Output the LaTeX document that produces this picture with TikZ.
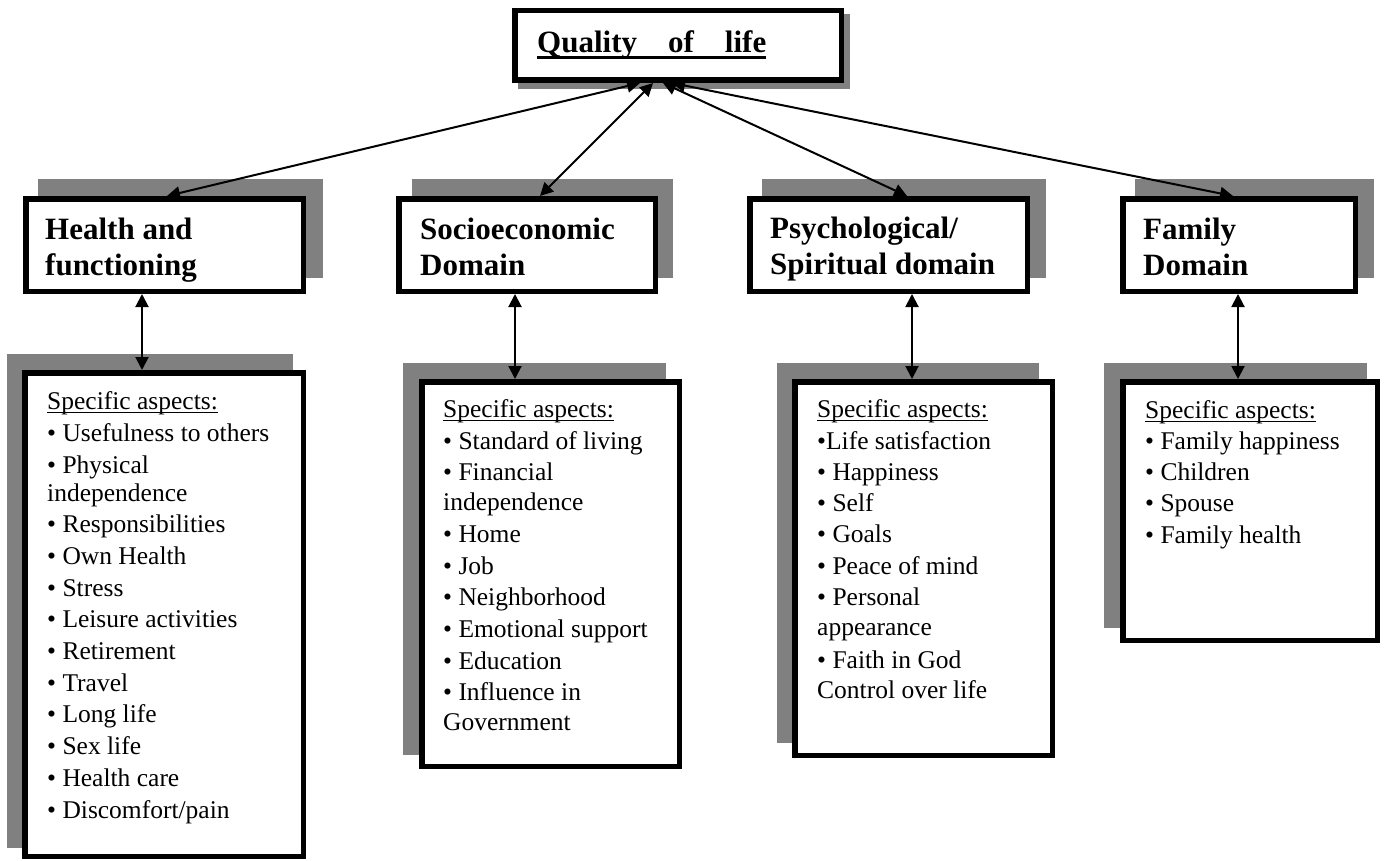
\documentclass[tikz,border=0pt]{standalone}
\usepackage{fontspec}
\setmainfont{Liberation Serif}
\usetikzlibrary{arrows.meta}
\newcommand{\ulbox}[3]{\setbox0=\hbox{#3}\rlap{\rule[-#1]{\wd0}{#2}}\box0}
\definecolor{shadowgray}{RGB}{128,128,128}
\begin{document}
\begin{tikzpicture}[x=1pt,y=-1pt,
  frame/.style={draw=black, line width=5.5pt, fill=white, inner sep=0pt, rectangle},
  shadowbox/.style={fill=shadowgray},
  listtxt/.style={anchor=base west, inner sep=0pt, font=\fontsize{25.5}{30}\selectfont},
  domtxt/.style={anchor=base west, inner sep=0pt, font=\fontsize{31}{36}\selectfont\bfseries},
  biarrow/.style={line width=2pt, {Triangle[length=13pt,width=13pt]}-{Triangle[length=13pt,width=13pt]}}]
\useasboundingbox (0,0) rectangle (1388,861);
% shadows
\fill[shadowbox] (518,14) rectangle (850,89);
\fill[shadowbox] (38,179) rectangle (323,278);
\fill[shadowbox] (412,179) rectangle (673,278);
\fill[shadowbox] (762,179) rectangle (1046,278);
\fill[shadowbox] (1135,179) rectangle (1374,278);
\fill[shadowbox] (7,354) rectangle (293,848);
\fill[shadowbox] (403,363) rectangle (666,755);
\fill[shadowbox] (777,363) rectangle (1039,743);
\fill[shadowbox] (1104,363) rectangle (1367,628);
% frames
\node[frame, minimum width=326.5pt, minimum height=69.5pt] (qol) at (678,45.5) {};
\node[frame, minimum width=277.5pt, minimum height=92.5pt] (hd) at (164.5,245) {};
\node[frame, minimum width=256.5pt, minimum height=92.5pt] (sd) at (527,245) {};
\node[frame, minimum width=277.5pt, minimum height=92.5pt] (pd) at (888.5,245) {};
\node[frame, minimum width=232.5pt, minimum height=92.5pt] (fd) at (1239,245) {};
\node[frame, minimum width=278.5pt, minimum height=483.5pt] (hl) at (164,614.5) {};
\node[frame, minimum width=257.5pt, minimum height=384.5pt] (sl) at (550.5,574) {};
\node[frame, minimum width=257.5pt, minimum height=373.5pt] (pl) at (923.5,568.5) {};
\node[frame, minimum width=254.5pt, minimum height=258.5pt] (fl) at (1250,511) {};
% title
\node[domtxt] (qoltxt) at (537,53) {\ulbox{6.5pt}{3pt}{Quality\hspace{31pt}of\hspace{31pt}life}};
% domain labels
\node[domtxt] (hd1) at (45,239) {Health and};
\node[domtxt] (hd2) at (45,275) {functioning};
\node[domtxt] (sd1) at (420,239) {Socioeconomic};
\node[domtxt] (sd2) at (420,275) {Domain};
\node[domtxt] (pd1) at (770,238) {Psychological/};
\node[domtxt] (pd2) at (770,274) {Spiritual domain};
\node[domtxt] (fd1) at (1143,239) {Family};
\node[domtxt] (fd2) at (1143,275) {Domain};
% lists
\foreach \yy/\lbl [count=\i] in {409/{\ulbox{4.3pt}{1.3pt}{Specific aspects:}}, 441/{• Usefulness to others}, 473/{• Physical}, 501/{independence}, 532/{• Responsibilities}, 564/{• Own Health}, 596/{• Stress}, 627/{• Leisure activities}, 659/{• Retirement}, 691/{• Travel}, 722/{• Long life}, 754/{• Sex life}, 786/{• Health care}, 818/{• Discomfort/pain}}
  \node[listtxt] (hlt\i) at (47,\yy) {\lbl};
\foreach \yy/\lbl [count=\i] in {417/{\ulbox{4.3pt}{1.3pt}{Specific aspects:}}, 449/{• Standard of living}, 480/{• Financial}, 510/{independence}, 542/{• Home}, 574/{• Job}, 605/{• Neighborhood}, 637/{• Emotional support}, 669/{• Education}, 700/{• Influence in}, 730/{Government}}
  \node[listtxt] (slt\i) at (443,\yy) {\lbl};
\foreach \yy/\lbl [count=\i] in {417/{\ulbox{4.3pt}{1.3pt}{Specific aspects:}}, 449/{•Life satisfaction}, 480/{• Happiness}, 511/{• Self}, 542/{• Goals}, 574/{• Peace of mind}, 605/{• Personal}, 635/{appearance}, 668/{• Faith in God}, 698/{Control over life}}
  \node[listtxt] (plt\i) at (817,\yy) {\lbl};
\foreach \yy/\lbl [count=\i] in {418/{\ulbox{4.3pt}{1.3pt}{Specific aspects:}}, 449/{• Family happiness}, 480/{• Children}, 511/{• Spouse}, 543/{• Family health}}
  \node[listtxt] (flt\i) at (1145,\yy) {\lbl};
% arrows from title to domains
\draw[biarrow] ([xshift=-38pt]qol.south) -- ([xshift=2.5pt]hd.north);
\draw[biarrow] ([xshift=-25pt]qol.south) -- ([xshift=13pt]sd.north);
\draw[biarrow] ([xshift=-15pt]qol.south) -- ([xshift=18.5pt]pd.north);
\draw[biarrow] ([xshift=-6pt]qol.south) -- ([xshift=-6pt]fd.north);
% arrows from domains to lists
\draw[biarrow] ([xshift=-22.5pt]hd.south) -- ([xshift=-22pt]hl.north);
\draw[biarrow] ([xshift=-12pt]sd.south) -- ([xshift=-35.5pt]sl.north);
\draw[biarrow] ([xshift=23.5pt]pd.south) -- ([xshift=-11.5pt]pl.north);
\draw[biarrow] ([xshift=-1pt]fd.south) -- ([xshift=-12pt]fl.north);
\end{tikzpicture}
\end{document}
